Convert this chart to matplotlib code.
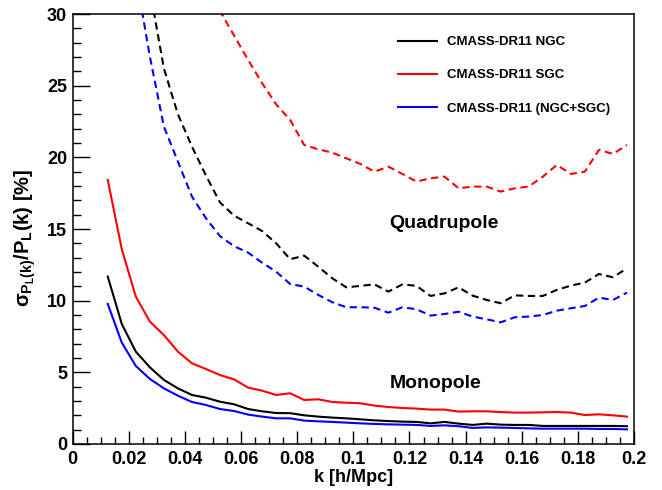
import matplotlib
matplotlib.use("Agg")
import matplotlib.pyplot as plt
from matplotlib.ticker import MultipleLocator, FixedLocator, FixedFormatter

plt.rcParams['font.family'] = ['Liberation Sans', 'DejaVu Sans']
plt.rcParams['font.weight'] = 'bold'
plt.rcParams['mathtext.fontset'] = 'custom'
plt.rcParams['mathtext.rm'] = 'Liberation Sans:bold'
plt.rcParams['mathtext.it'] = 'Liberation Sans:bold'
plt.rcParams['mathtext.bf'] = 'Liberation Sans:bold'
plt.rcParams['mathtext.default'] = 'rm'

# ---------------- data ----------------
k = [0.0125, 0.0175, 0.0225, 0.0275, 0.0325, 0.0375, 0.0425, 0.0475, 0.0525, 0.0575,
     0.0625, 0.0675, 0.0725, 0.0775, 0.0825, 0.0875, 0.0925, 0.0975, 0.1025, 0.1075,
     0.1125, 0.1175, 0.1225, 0.1275, 0.1325, 0.1375, 0.1425, 0.1475, 0.1525, 0.1575,
     0.1625, 0.1675, 0.1725, 0.1775, 0.1825, 0.1875, 0.1925, 0.1975]

mono_ngc = [11.68, 8.37, 6.44, 5.35, 4.47, 3.88, 3.42, 3.23, 2.95, 2.77,
            2.44, 2.28, 2.16, 2.15, 2.00, 1.91, 1.84, 1.79, 1.72, 1.65,
            1.60, 1.56, 1.54, 1.44, 1.54, 1.42, 1.33, 1.42, 1.35, 1.33,
            1.33, 1.26, 1.26, 1.26, 1.26, 1.26, 1.26, 1.24]
mono_sgc = [18.42, 13.58, 10.28, 8.54, 7.60, 6.44, 5.63, 5.23, 4.81, 4.51,
            3.93, 3.72, 3.42, 3.54, 3.07, 3.12, 2.93, 2.88, 2.84, 2.68,
            2.58, 2.51, 2.47, 2.40, 2.40, 2.26, 2.28, 2.28, 2.23, 2.19,
            2.19, 2.21, 2.23, 2.19, 2.02, 2.07, 2.00, 1.91]
mono_all = [9.77, 7.07, 5.44, 4.54, 3.88, 3.37, 2.93, 2.72, 2.44, 2.30,
            2.05, 1.91, 1.79, 1.79, 1.63, 1.58, 1.54, 1.49, 1.44, 1.40,
            1.37, 1.35, 1.33, 1.26, 1.30, 1.24, 1.12, 1.16, 1.14, 1.12,
            1.09, 1.07, 1.07, 1.07, 1.07, 1.05, 1.05, 1.02]

quad_ngc = [60.0, 47.0, 38.0, 31.7, 26.2, 23.0, 20.75, 18.72, 16.85, 15.93,
            15.4, 14.86, 14.0, 12.89, 13.14, 12.37, 11.56, 10.93, 11.03, 11.14,
            10.63, 11.14, 11.03, 10.33, 10.51, 10.93, 10.35, 10.05, 9.82, 10.37,
            10.33, 10.33, 10.75, 11.05, 11.26, 11.86, 11.63, 12.26]
quad_sgc = [80.0, 65.0, 54.0, 47.0, 42.0, 38.0, 35.0, 32.5, 30.2, 28.5,
            26.8, 25.17, 23.7, 22.6, 20.86, 20.56, 20.33, 19.93, 19.54, 19.0,
            19.35, 18.84, 18.31, 18.54, 18.65, 17.84, 17.96, 17.96, 17.61, 17.84,
            17.96, 18.65, 19.47, 18.84, 19.0, 20.52, 20.24, 20.86]
quad_all = [50.0, 40.0, 32.7, 27.03, 22.14, 19.7, 17.26, 15.75, 14.5, 13.8,
            13.35, 12.65, 12.02, 11.16, 10.98, 10.40, 9.89, 9.54, 9.54, 9.51,
            9.16, 9.54, 9.40, 8.96, 9.07, 9.23, 8.89, 8.70, 8.49, 8.84,
            8.89, 9.00, 9.30, 9.47, 9.63, 10.21, 10.05, 10.56]

labels = ['CMASS-DR11 NGC', 'CMASS-DR11 SGC', 'CMASS-DR11 (NGC+SGC)']
colors = ['black', 'red', 'blue']

xticks = [0, 0.02, 0.04, 0.06, 0.08, 0.1, 0.12, 0.14, 0.16, 0.18, 0.2]
xticklabels = ['0', '0.02', '0.04', '0.06', '0.08', '0.1', '0.12', '0.14', '0.16', '0.18', '0.2']
yticks = [0, 5, 10, 15, 20, 25, 30]
yticklabels = ['0', '5', '10', '15', '20', '25', '30']

# ---------------- figure ----------------
fig = plt.figure(figsize=(6.62, 4.90), dpi=100)
ax = fig.add_axes([0.1098, 0.0939, 0.9577 - 0.1098, 0.9714 - 0.0939])

lw = 1.5
dash = (3.5, 2.2)
handles = []
for mono, quad, c, lab in zip([mono_ngc, mono_sgc, mono_all],
                              [quad_ngc, quad_sgc, quad_all], colors, labels):
    h, = ax.plot(k, mono, color=c, lw=lw, label=lab)
    ax.plot(k, quad, color=c, lw=lw, dashes=dash)
    handles.append(h)

ax.set_xlim(0, 0.2)
ax.set_ylim(0, 30)

ax.xaxis.set_major_locator(FixedLocator(xticks))
ax.xaxis.set_major_formatter(FixedFormatter(xticklabels))
ax.xaxis.set_minor_locator(MultipleLocator(0.005))
ax.yaxis.set_major_locator(FixedLocator(yticks))
ax.yaxis.set_major_formatter(FixedFormatter(yticklabels))
ax.yaxis.set_minor_locator(MultipleLocator(1))

ax.tick_params(axis='both', which='both', direction='in', top=False, right=False,
               width=1.0, labelsize=13)
ax.tick_params(axis='x', which='major', length=9.4, pad=5)
ax.tick_params(axis='x', which='minor', length=5)
ax.tick_params(axis='y', which='major', length=12.2, pad=4)
ax.tick_params(axis='y', which='minor', length=5.8)
for lab in ax.get_xticklabels() + ax.get_yticklabels():
    lab.set_fontweight('bold')

for s in ax.spines.values():
    s.set_linewidth(1.1)

ax.set_xlabel('k [h/Mpc]', fontsize=13, fontweight='bold')
ax.set_ylabel(r'$\sigma_{P_{L}(k)}$/P$_{L}$(k) [%]', fontsize=14.5, fontweight='bold')
ax.xaxis.set_label_coords(0.5, -0.058)
ax.yaxis.set_label_coords(-0.062, 0.48)

ax.text(0.1128, 15.4, 'Quadrupole', fontsize=14, fontweight='bold', va='center', ha='left')
ax.text(0.1128, 4.19, 'Monopole', fontsize=14, fontweight='bold', va='center', ha='left')

leg = fig.legend(handles=handles, loc='upper left', bbox_to_anchor=(0.6008, 0.9262),
                 frameon=False, fontsize=9.5, handlelength=3.0, handletextpad=0.75,
                 labelspacing=1.58, borderpad=0, borderaxespad=0)
for t in leg.get_texts():
    t.set_fontweight('bold')

fig.savefig('out.png', dpi=100)
